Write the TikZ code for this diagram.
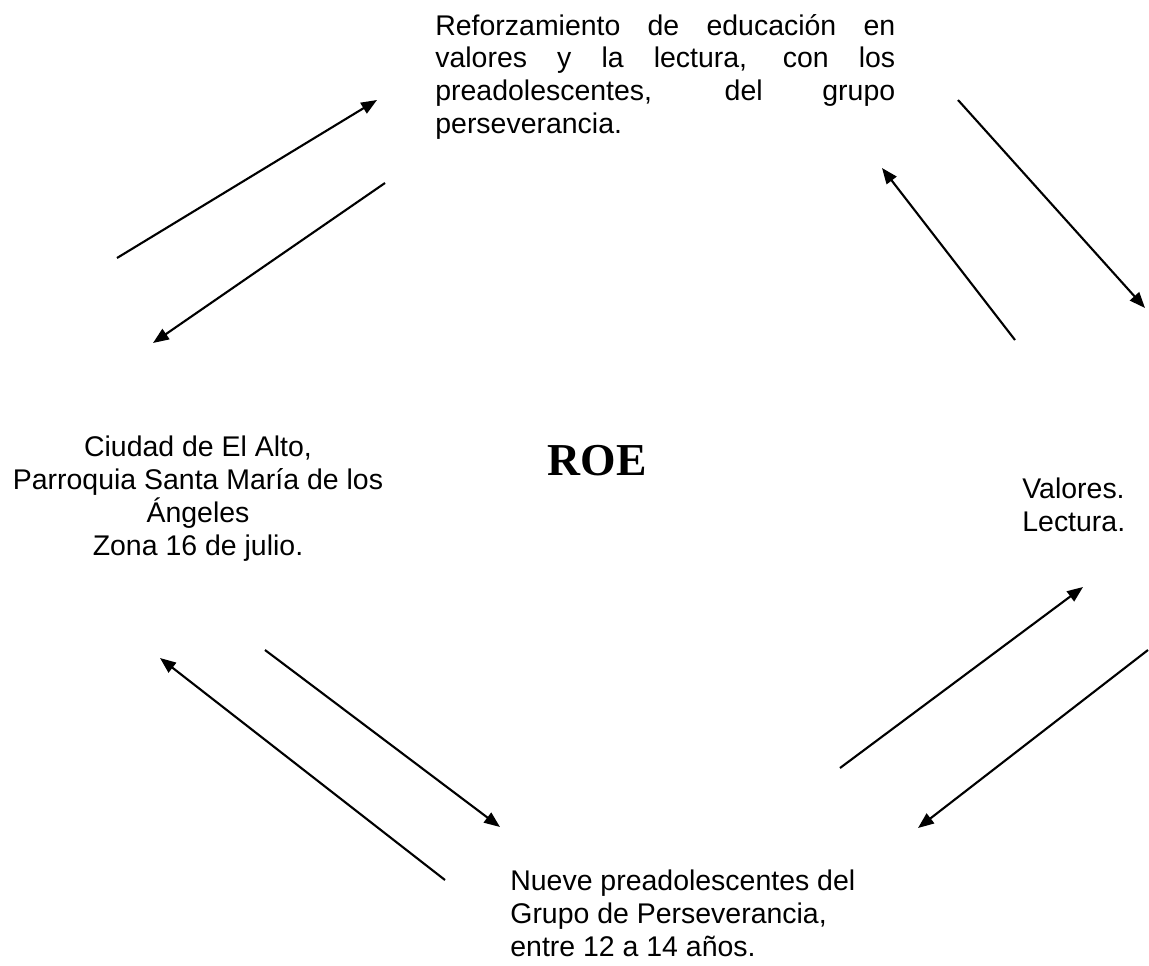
\documentclass[tikz,border=0pt]{standalone}
\usepackage{fontspec}
\setmainfont{Liberation Sans}
\newfontfamily\roefont{Liberation Serif}
\usetikzlibrary{arrows.meta}

\begin{document}
\begin{tikzpicture}[
    x=0.02cm, y=-0.02cm,
    txt/.style={inner sep=0pt, font=\fontsize{16.2}{18.6}\selectfont},
    arrow/.style={-{Triangle[length=9pt, width=7pt]}, line width=1.2pt}
]
\useasboundingbox (0,0) rectangle (1149,966);

% Texts
\node[txt, anchor=north west, text width=9.2cm, align=justify] (reforzamiento) at (435,14)
    {Reforzamiento de educación en\linebreak valores y la lectura, con los\linebreak preadolescentes, del grupo\linebreak perseverancia.};
\node[txt, anchor=north, align=center] (ciudad) at (198,436)
    {Ciudad de El Alto,\\Parroquia Santa María de los\\Ángeles\\Zona 16 de julio.};
\node[inner sep=0pt, font=\roefont\fontsize{26}{30}\selectfont\bfseries] (roe) at (597,461) {ROE};
\node[txt, anchor=north west, align=left] (valores) at (1022,478)
    {Valores.\\Lectura.};
\node[txt, anchor=north west, align=left] (nueve) at (510,870)
    {Nueve preadolescentes del\\Grupo de Perseverancia,\\entre 12 a 14 años.};

% Arrow ends
\coordinate (a1) at (117,258);  \coordinate (b1) at (377,100);
\coordinate (a2) at (385,183);  \coordinate (b2) at (153,343);
\coordinate (a3) at (958,100);  \coordinate (b3) at (1145,308);
\coordinate (a4) at (1015,340); \coordinate (b4) at (882,168);
\coordinate (a5) at (840,768);  \coordinate (b5) at (1083,587);
\coordinate (a6) at (1148,650); \coordinate (b6) at (918,828);
\coordinate (a7) at (265,650);  \coordinate (b7) at (500,827);
\coordinate (a8) at (445,880);  \coordinate (b8) at (160,658);

% Arrows
\foreach \i in {1,...,8}
    \draw[arrow] (a\i) -- (b\i);

\end{tikzpicture}
\end{document}
